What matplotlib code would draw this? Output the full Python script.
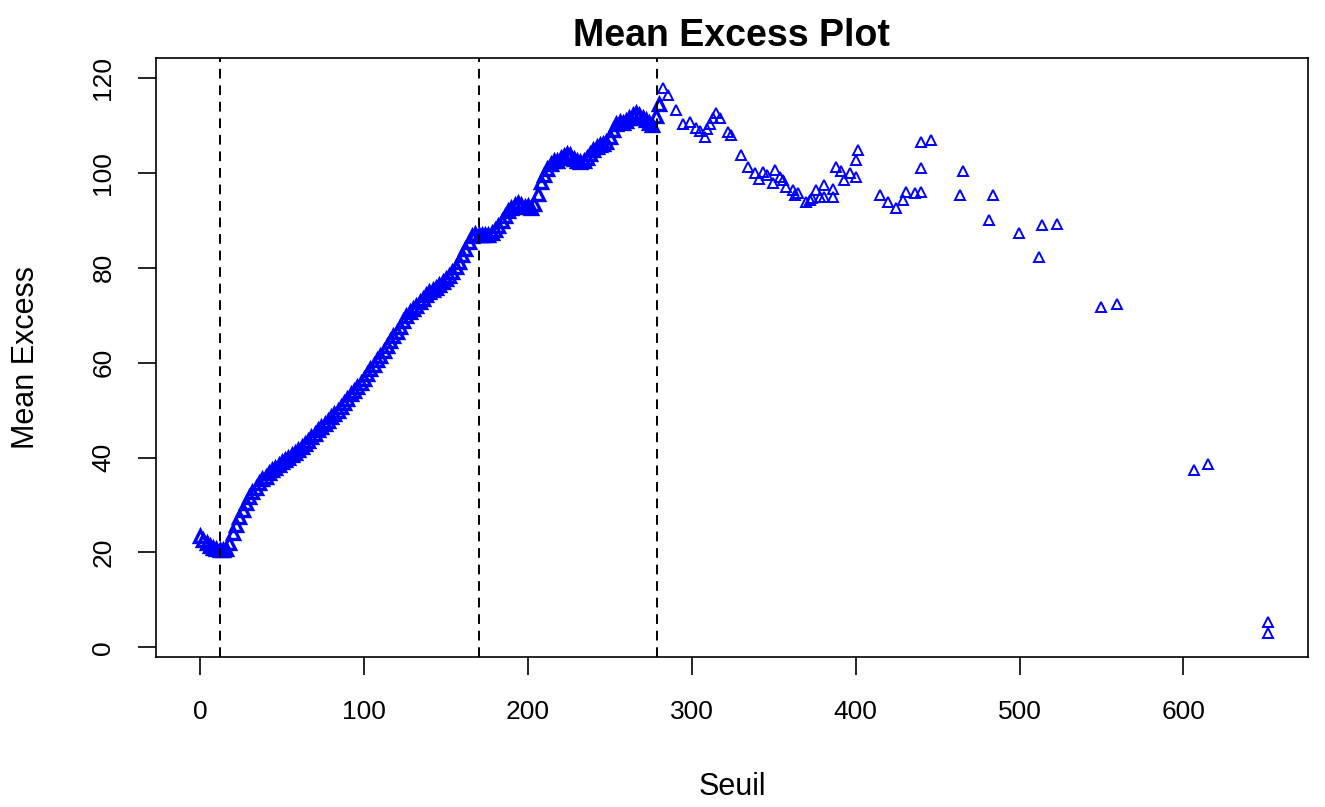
import matplotlib
matplotlib.use('Agg')
import matplotlib.pyplot as plt

# dense part of the curve (thresholds 0..280)
seuil_dense = [0, 2, 4, 6, 8, 10, 12, 14, 16, 18, 20, 22, 24, 26, 28, 30, 32, 34, 36, 38,
               40, 42, 44, 46, 48, 50, 52, 54, 56, 58, 60, 62, 64, 66, 68, 70, 72, 74, 76, 78,
               80, 82, 84, 86, 88, 90, 92, 94, 96, 98, 100, 102, 104, 106, 108, 110, 112, 114, 116, 118,
               120, 122, 124, 126, 128, 130, 132, 134, 136, 138, 140, 142, 144, 146, 148, 150, 152, 154, 156, 158,
               160, 162, 164, 166, 168, 170, 172, 174, 176, 178, 180, 182, 184, 186, 188, 190, 192, 194, 196, 198,
               200, 202, 204, 206, 208, 210, 212, 214, 216, 218, 220, 222, 224, 226, 228, 230, 232, 234, 236, 238,
               240, 242, 244, 246, 248, 250, 252, 254, 256, 258, 260, 262, 264, 266, 268, 270, 272, 274, 276, 278, 280]
me_dense = [23.5, 22.6, 21.9, 21.3, 20.9, 20.7, 20.6, 20.6, 20.8, 22.0, 24.0, 25.8, 27.5, 29.0, 30.4, 31.6, 32.7, 33.6, 34.6, 35.4,
            36.0, 36.7, 37.3, 37.9, 38.5, 39.0, 39.5, 40.0, 40.5, 41.0, 41.6, 42.2, 42.8, 43.5, 44.3, 45.0, 45.7, 46.4, 47.1, 47.8,
            48.5, 49.1, 49.8, 50.6, 51.5, 52.4, 53.3, 54.1, 54.9, 55.7, 56.5, 57.6, 58.6, 59.6, 60.6, 61.4, 62.5, 63.6, 64.6, 65.6,
            66.5, 67.6, 68.8, 69.8, 70.7, 71.4, 72.0, 72.8, 73.5, 74.2, 74.9, 75.3, 75.8, 76.4, 77.0, 77.6, 78.3, 79.1, 80.1, 81.3,
            82.6, 84.0, 85.5, 86.6, 87.2, 86.9, 86.8, 86.9, 87.0, 87.4, 88.0, 88.9, 89.9, 91.0, 91.9, 92.6, 93.3, 93.6, 93.2, 92.9,
            93.0, 92.6, 93.4, 95.5, 98.0, 99.5, 100.8, 101.8, 102.4, 102.6, 103.1, 103.6, 104.0, 103.8, 103.0, 102.4, 102.3, 102.6, 103.2, 104.0,
            104.8, 105.4, 105.9, 106.0, 106.6, 107.6, 109.0, 110.3, 110.8, 110.5, 111.0, 111.6, 112.2, 112.6, 112.2, 111.6, 111.2, 110.5, 110.0, 112.0, 114.5]

# sparse tail
seuil_tail = [282.5, 285.6, 290.7, 294.7, 298.8, 302.8, 305, 308, 309.5, 311, 313, 315, 317, 322, 324,
              330, 334.3, 338.4, 341, 343.5, 346, 349.6, 350.6, 353.7, 355.7, 357.7, 361.8, 362.8, 365,
              370, 372, 373.6, 376, 378, 381, 381, 386, 386, 388, 391.3, 393, 396.3, 400.4, 400.4, 401.4,
              414.6, 419.7, 424.8, 428.9, 431, 436, 440, 440, 440, 446, 463.4, 465.4, 481.3, 483.7,
              499.6, 511.8, 513.8, 523, 549.8, 559.3, 606.7, 614.8, 651.4, 651.4]
me_tail = [117.8, 116.4, 113.3, 110.4, 110.7, 109.4, 108.8, 107.6, 109.2, 110.4, 111.5, 112.6, 111.5, 108.6, 108.0,
           103.8, 101.3, 99.9, 98.8, 100.2, 99.5, 97.8, 100.6, 99.2, 98.5, 97.1, 96.4, 95.3, 95.7,
           93.9, 94.3, 94.6, 96.4, 95.0, 97.5, 95.0, 95.0, 96.7, 101.3, 100.3, 98.5, 99.9, 99.2, 102.7, 104.8,
           95.3, 93.9, 92.5, 94.3, 96.0, 95.7, 96.0, 101.0, 106.6, 106.9, 95.3, 100.3, 90.1, 95.3,
           87.3, 82.3, 89.0, 89.2, 71.8, 72.4, 37.4, 38.6, 5.4, 2.95]

vlines = [12, 170, 279]
xticks = [0, 100, 200, 300, 400, 500, 600]
yticks = [0, 20, 40, 60, 80, 100, 120]

plt.rcParams['font.family'] = ['Liberation Sans', 'DejaVu Sans']

fig = plt.figure(figsize=(13.25, 8.07), dpi=100)
ax = fig.add_axes([0.1175, 0.1855, 0.8697, 0.7426])

# dense band: many overlapping points, drawn a bit heavier so it reads as solid
ax.plot(seuil_dense, me_dense, marker='^', linestyle='none', markersize=8.5,
        markerfacecolor='none', markeredgecolor='#0000FF', markeredgewidth=2.4)
ax.plot(seuil_tail, me_tail, marker='^', linestyle='none', markersize=7.5,
        markerfacecolor='none', markeredgecolor='#0000FF', markeredgewidth=1.4)

for v in vlines:
    ax.axvline(v, color='black', linewidth=1.4, linestyle=(0, (5, 3.5)))

ax.set_xlim(-27, 676)
ax.set_ylim(-2.1, 124.2)
ax.set_xticks(xticks)
ax.set_yticks(yticks)
ax.tick_params(direction='out', length=13, width=1.2, labelsize=19, colors='black')
ax.tick_params(axis='x', pad=18)
ax.tick_params(axis='y', pad=16)
for lab in ax.get_yticklabels():
    lab.set_rotation(90)
    lab.set_va('center')
for s in ax.spines.values():
    s.set_linewidth(1.2)

ax.set_title('Mean Excess Plot', fontsize=27, fontweight='bold', pad=9)
ax.set_xlabel('Seuil', fontsize=22, labelpad=34)
ax.set_ylabel('Mean Excess', fontsize=22, labelpad=36)

fig.savefig('out.png', dpi=100)
